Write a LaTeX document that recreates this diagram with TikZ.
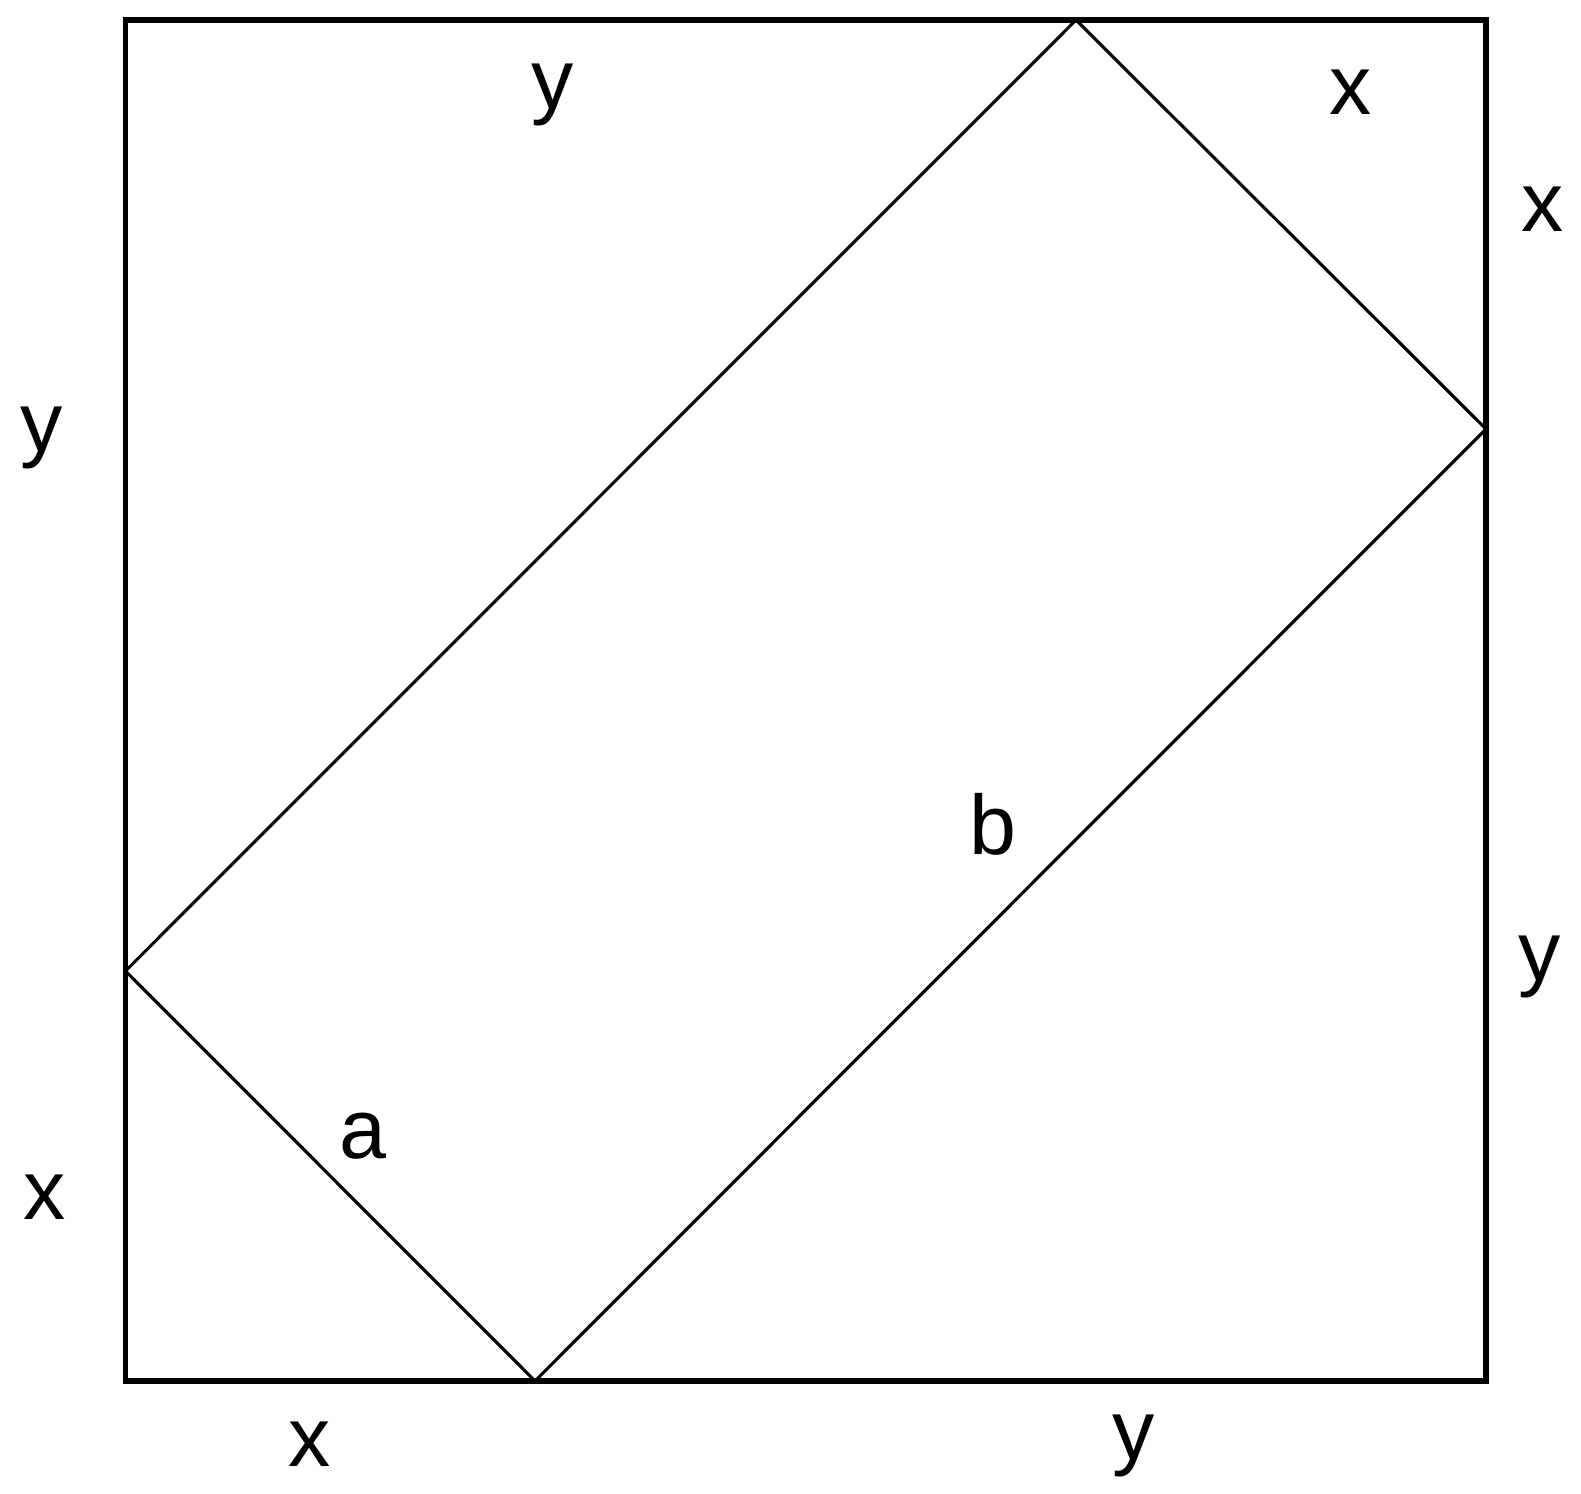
\documentclass[tikz,border=0pt]{standalone}
\usepackage{fontspec}
\setmainfont{Liberation Sans}
\usepackage{tikz}
\tikzset{
  squareline/.style={
    draw=black,
    line width=1.7pt,
    line join=miter},
  rectline/.style={draw=black, line width=0.9pt},
  lbl/.style={
    inner sep=0pt,
    font=\fontsize{24}{28}\selectfont,
    text centered},
}

\begin{document}
\begin{tikzpicture}[x=0.01cm, y=-0.01cm]
     \useasboundingbox (0,0) rectangle (1581,1494);
     % corners of the square
     \coordinate (TopLeft)     at (125.5,20);
     \coordinate (TopRight)    at (1486,20);
     \coordinate (BottomRight) at (1486,1381);
     \coordinate (BottomLeft)  at (125.5,1381);
     % corners of the inner rectangle
     \coordinate (CutTop)    at (1076,20);
     \coordinate (CutRight)  at (1486,429);
     \coordinate (CutBottom) at (535,1381);
     \coordinate (CutLeft)   at (125.5,971);
     \draw[squareline] (TopLeft) -- (TopRight) -- (BottomRight) -- (BottomLeft) -- cycle;
     \draw[rectline] (CutLeft) -- (CutTop) -- (CutRight) -- (CutBottom) -- cycle;
     % side labels
     \node[lbl] (TopY)      at (553,95)   {y};
     \node[lbl] (TopX)      at (1351,92)  {x};
     \node[lbl] (RightX)    at (1543,209) {x};
     \node[lbl] (LeftY)     at (42,438)   {y};
     \node[lbl] (RightY)    at (1540,967) {y};
     \node[lbl] (LeftX)     at (45,1197)  {x};
     \node[lbl] (BottomX)   at (310,1444) {x};
     \node[lbl] (BottomY)   at (1134,1446) {y};
     \node[lbl] (LongSide)  at (993,824)  {b};
     \node[lbl] (ShortSide) at (363,1136) {a};
\end{tikzpicture}
\end{document}
